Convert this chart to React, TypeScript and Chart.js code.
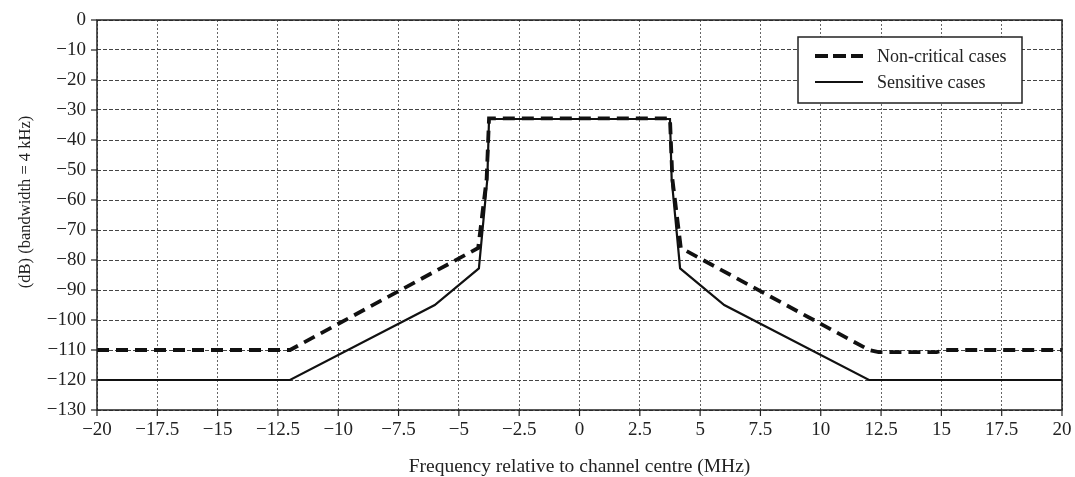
import React, { useEffect, useRef } from "react";
import { Chart, registerables } from "chart.js";

Chart.register(...registerables);

// ---- Data ----
const seriesLabels = ["Non-critical cases", "Sensitive cases"];

const freqNonCritical = [-20, -12, -4.2, -3.85, -3.75, 3.75, 3.85, 4.2, 12, 12.4, 14.8, 15.2, 20];
const levelNonCritical = [-110, -110, -76, -53, -32.8, -32.8, -53, -76, -110, -110.7, -110.7, -110, -110];

const freqSensitive = [-20, -12, -6, -4.17, -3.82, -3.75, 3.75, 3.82, 4.17, 6, 12, 20];
const levelSensitive = [-120, -120, -95, -82.8, -53, -33, -33, -53, -82.8, -95, -120, -120];

const xTickValues = [-20, -17.5, -15, -12.5, -10, -7.5, -5, -2.5, 0, 2.5, 5, 7.5, 10, 12.5, 15, 17.5, 20];
const xTickLabels = ["−20", "−17.5", "−15", "−12.5", "−10", "−7.5", "−5", "−2.5", "0", "2.5", "5", "7.5", "10", "12.5", "15", "17.5", "20"];
const yTickValues = [0, -10, -20, -30, -40, -50, -60, -70, -80, -90, -100, -110, -120, -130];
const yTickLabels = ["0", "−10", "−20", "−30", "−40", "−50", "−60", "−70", "−80", "−90", "−100", "−110", "−120", "−130"];

const xTitle = "Frequency relative to channel centre (MHz)";
const yTitle = "(dB) (bandwidth = 4 kHz)";

const SERIF = "'Liberation Serif', 'Times New Roman', serif";

const extrasPlugin = {
  id: "extras",
  afterDraw(chart: any) {
    const { ctx, chartArea } = chart;
    const { left, right, top, bottom } = chartArea;
    ctx.save();
    // frame
    ctx.strokeStyle = "#222";
    ctx.lineWidth = 1.5;
    ctx.setLineDash([]);
    ctx.strokeRect(left, top, right - left, bottom - top);
    // tick marks
    ctx.lineWidth = 1.2;
    const xs = chart.scales.x;
    const ys = chart.scales.y;
    for (const v of xTickValues) {
      const px = xs.getPixelForValue(v);
      ctx.beginPath();
      ctx.moveTo(px, bottom);
      ctx.lineTo(px, bottom + 6);
      ctx.stroke();
    }
    for (const v of yTickValues) {
      const py = ys.getPixelForValue(v);
      ctx.beginPath();
      ctx.moveTo(left - 6, py);
      ctx.lineTo(left, py);
      ctx.stroke();
    }
    // y title
    ctx.fillStyle = "#222";
    ctx.font = `16.5px ${SERIF}`;
    ctx.textAlign = "center";
    ctx.textBaseline = "middle";
    ctx.translate(26, 202);
    ctx.rotate(-Math.PI / 2);
    ctx.fillText(yTitle, 0, 0);
    ctx.restore();

    // legend
    ctx.save();
    const bx = 798, by = 37, bw = 224, bh = 66;
    ctx.fillStyle = "#fff";
    ctx.fillRect(bx, by, bw, bh);
    ctx.strokeStyle = "#222";
    ctx.lineWidth = 1.5;
    ctx.strokeRect(bx, by, bw, bh);
    const rows = [56, 82];
    chart.data.datasets.forEach((ds: any, i: number) => {
      const y = rows[i];
      ctx.beginPath();
      ctx.strokeStyle = "#111";
      ctx.lineWidth = ds.borderWidth;
      ctx.setLineDash(i === 0 ? [13, 5] : []);
      ctx.lineCap = "butt";
      ctx.moveTo(815, y);
      ctx.lineTo(863, y);
      ctx.stroke();
      ctx.setLineDash([]);
      ctx.fillStyle = "#222";
      ctx.font = `18px ${SERIF}`;
      ctx.textAlign = "left";
      ctx.textBaseline = "middle";
      ctx.fillText(ds.label, 877, y + 1);
    });
    ctx.restore();
  },
};

export default function App() {
  const ref = useRef<HTMLCanvasElement | null>(null);

  useEffect(() => {
    if (!ref.current) return;
    const chart = new Chart(ref.current, {
      type: "line",
      data: {
        datasets: [
          {
            label: seriesLabels[0],
            data: freqNonCritical.map((x, i) => ({ x, y: levelNonCritical[i] })),
            borderColor: "#111",
            borderWidth: 3.8,
            borderDash: [12, 7],
            pointRadius: 0,
            tension: 0,
            fill: false,
          },
          {
            label: seriesLabels[1],
            data: freqSensitive.map((x, i) => ({ x, y: levelSensitive[i] })),
            borderColor: "#111",
            borderWidth: 2.2,
            pointRadius: 0,
            tension: 0,
            fill: false,
          },
        ],
      },
      options: {
        responsive: false,
        animation: false,
        layout: { padding: { top: 20, right: 13, left: 0, bottom: 0 } },
        plugins: { legend: { display: false }, tooltip: { enabled: false } },
        scales: {
          x: {
            type: "linear",
            min: -20,
            max: 20,
            afterFit: (s: any) => {
              s.height = 67;
            },
            afterBuildTicks: (s: any) => {
              s.ticks = xTickValues.map((v) => ({ value: v }));
            },
            ticks: {
              autoSkip: false,
              maxRotation: 0,
              padding: 3,
              color: "#222",
              font: { family: SERIF, size: 19 },
              callback: (v: any) => xTickLabels[xTickValues.indexOf(Number(v))] ?? "",
            },
            grid: {
              color: "#666",
              lineWidth: 1,
              tickLength: 6,
              tickColor: "rgba(0,0,0,0)",
            },
            border: { display: false, dash: [2, 2] },
            title: {
              display: true,
              text: xTitle,
              color: "#222",
              font: { family: SERIF, size: 19.5, lineHeight: 1 },
              padding: { top: 0, bottom: 0 },
            },
          },
          y: {
            type: "linear",
            min: -130,
            max: 0,
            afterFit: (s: any) => {
              s.width = 97;
            },
            afterBuildTicks: (s: any) => {
              s.ticks = yTickValues.map((v) => ({ value: v }));
            },
            ticks: {
              autoSkip: false,
              padding: 5,
              color: "#222",
              font: { family: SERIF, size: 19 },
              callback: (v: any) => yTickLabels[yTickValues.indexOf(Number(v))] ?? "",
            },
            grid: {
              color: "#444",
              lineWidth: 1,
              tickLength: 6,
              tickColor: "rgba(0,0,0,0)",
            },
            border: { display: false, dash: [4, 2] },
          },
        },
      } as any,
      plugins: [extrasPlugin],
    });
    return () => chart.destroy();
  }, []);

  return (
    <div style={{ position: "absolute", left: 0, top: 0, width: 1075, height: 477, background: "#fff" }}>
      <canvas ref={ref} width={1075} height={477} style={{ display: "block" }} />
    </div>
  );
}
